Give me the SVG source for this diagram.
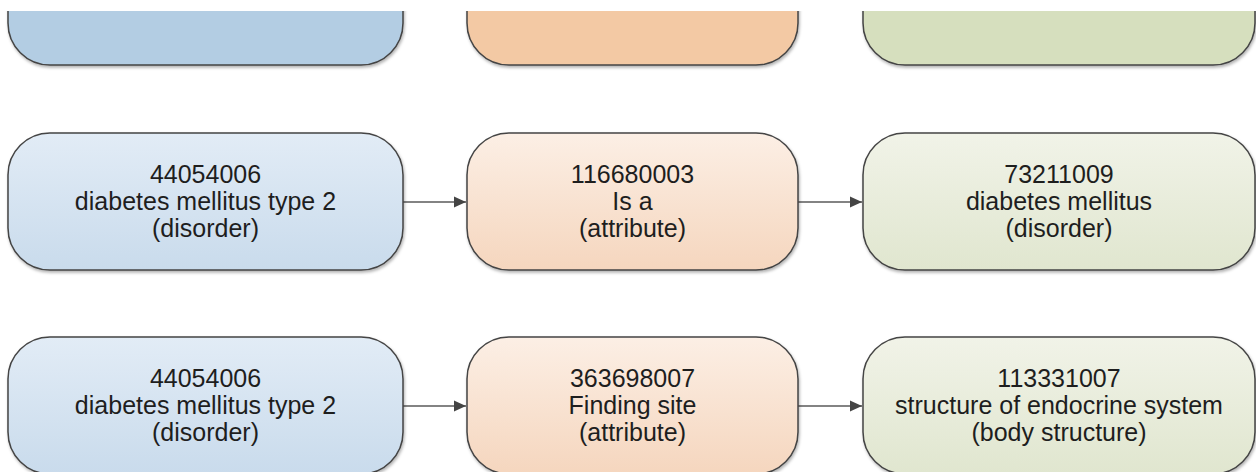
<svg xmlns="http://www.w3.org/2000/svg" width="1256" height="472" viewBox="0 0 1256 472">
  <style>
    .box { stroke: #444; stroke-width: 1.5; }
    .t { font-family: "Liberation Sans", Arial, sans-serif; font-size: 25px; fill: #1e1e1e; text-anchor: middle; }
    .edge { stroke: #5a5a5a; stroke-width: 1.5; fill: none; marker-end: url(#arr); }
  </style>
  <defs>
    <linearGradient id="gB" x1="0" y1="0" x2="0" y2="1"><stop offset="0" stop-color="#e2ecf6"/><stop offset="1" stop-color="#c9dbec"/></linearGradient>
    <linearGradient id="gO" x1="0" y1="0" x2="0" y2="1"><stop offset="0" stop-color="#fcefe5"/><stop offset="1" stop-color="#f5d6be"/></linearGradient>
    <linearGradient id="gG" x1="0" y1="0" x2="0" y2="1"><stop offset="0" stop-color="#f1f3e8"/><stop offset="1" stop-color="#e0e6cf"/></linearGradient>
    <filter id="sh" x="-5%" y="-10%" width="110%" height="125%">
      <feDropShadow dx="1" dy="2" stdDeviation="1.5" flood-color="#000" flood-opacity="0.3"/>
    </filter>
    <marker id="arr" markerUnits="userSpaceOnUse" markerWidth="12" markerHeight="12" viewBox="0 0 12 12" refX="12" refY="6" orient="auto">
      <path d="M0,0.5 L12,6 L0,11.5 Z" fill="#444"/>
    </marker>
    <clipPath id="topclip"><rect x="0" y="11" width="1256" height="100"/></clipPath>
  </defs>
  <rect width="1256" height="472" fill="#fff"/>

  <g id="row1" clip-path="url(#topclip)">
    <g id="n1a"><rect class="box" x="8" y="-72" width="395" height="137" rx="42" fill="#b3cde3" filter="url(#sh)"/></g>
    <g id="n1b"><rect class="box" x="467" y="-72" width="331" height="137" rx="42" fill="#f3c9a4" filter="url(#sh)"/></g>
    <g id="n1c"><rect class="box" x="863" y="-72" width="392" height="137" rx="42" fill="#d6dfbe" filter="url(#sh)"/></g>
  </g>

  <g id="connectors">
    <line class="edge" x1="403" y1="202" x2="466" y2="202"/>
    <line class="edge" x1="798" y1="202" x2="862" y2="202"/>
    <line class="edge" x1="403" y1="406" x2="466" y2="406"/>
    <line class="edge" x1="798" y1="406" x2="862" y2="406"/>
  </g>

  <g id="n2a">
    <rect class="box" x="8" y="133" width="395" height="137" rx="42" fill="url(#gB)" filter="url(#sh)"/>
    <text class="t" x="205.5" y="183">44054006</text>
    <text class="t" x="205.5" y="210">diabetes mellitus type 2</text>
    <text class="t" x="205.5" y="237">(disorder)</text>
  </g>
  <g id="n2b">
    <rect class="box" x="467" y="133" width="331" height="137" rx="42" fill="url(#gO)" filter="url(#sh)"/>
    <text class="t" x="632.5" y="183">116680003</text>
    <text class="t" x="632.5" y="210">Is a</text>
    <text class="t" x="632.5" y="237">(attribute)</text>
  </g>
  <g id="n2c">
    <rect class="box" x="863" y="133" width="392" height="137" rx="42" fill="url(#gG)" filter="url(#sh)"/>
    <text class="t" x="1059" y="183">73211009</text>
    <text class="t" x="1059" y="210">diabetes mellitus</text>
    <text class="t" x="1059" y="237">(disorder)</text>
  </g>

  <g id="n3a">
    <rect class="box" x="8" y="337" width="395" height="137" rx="42" fill="url(#gB)" filter="url(#sh)"/>
    <text class="t" x="205.5" y="387">44054006</text>
    <text class="t" x="205.5" y="414">diabetes mellitus type 2</text>
    <text class="t" x="205.5" y="441">(disorder)</text>
  </g>
  <g id="n3b">
    <rect class="box" x="467" y="337" width="331" height="137" rx="42" fill="url(#gO)" filter="url(#sh)"/>
    <text class="t" x="632.5" y="387">363698007</text>
    <text class="t" x="632.5" y="414">Finding site</text>
    <text class="t" x="632.5" y="441">(attribute)</text>
  </g>
  <g id="n3c">
    <rect class="box" x="863" y="337" width="392" height="137" rx="42" fill="url(#gG)" filter="url(#sh)"/>
    <text class="t" x="1059" y="387">113331007</text>
    <text class="t" x="1059" y="414">structure of endocrine system</text>
    <text class="t" x="1059" y="441">(body structure)</text>
  </g>
</svg>
